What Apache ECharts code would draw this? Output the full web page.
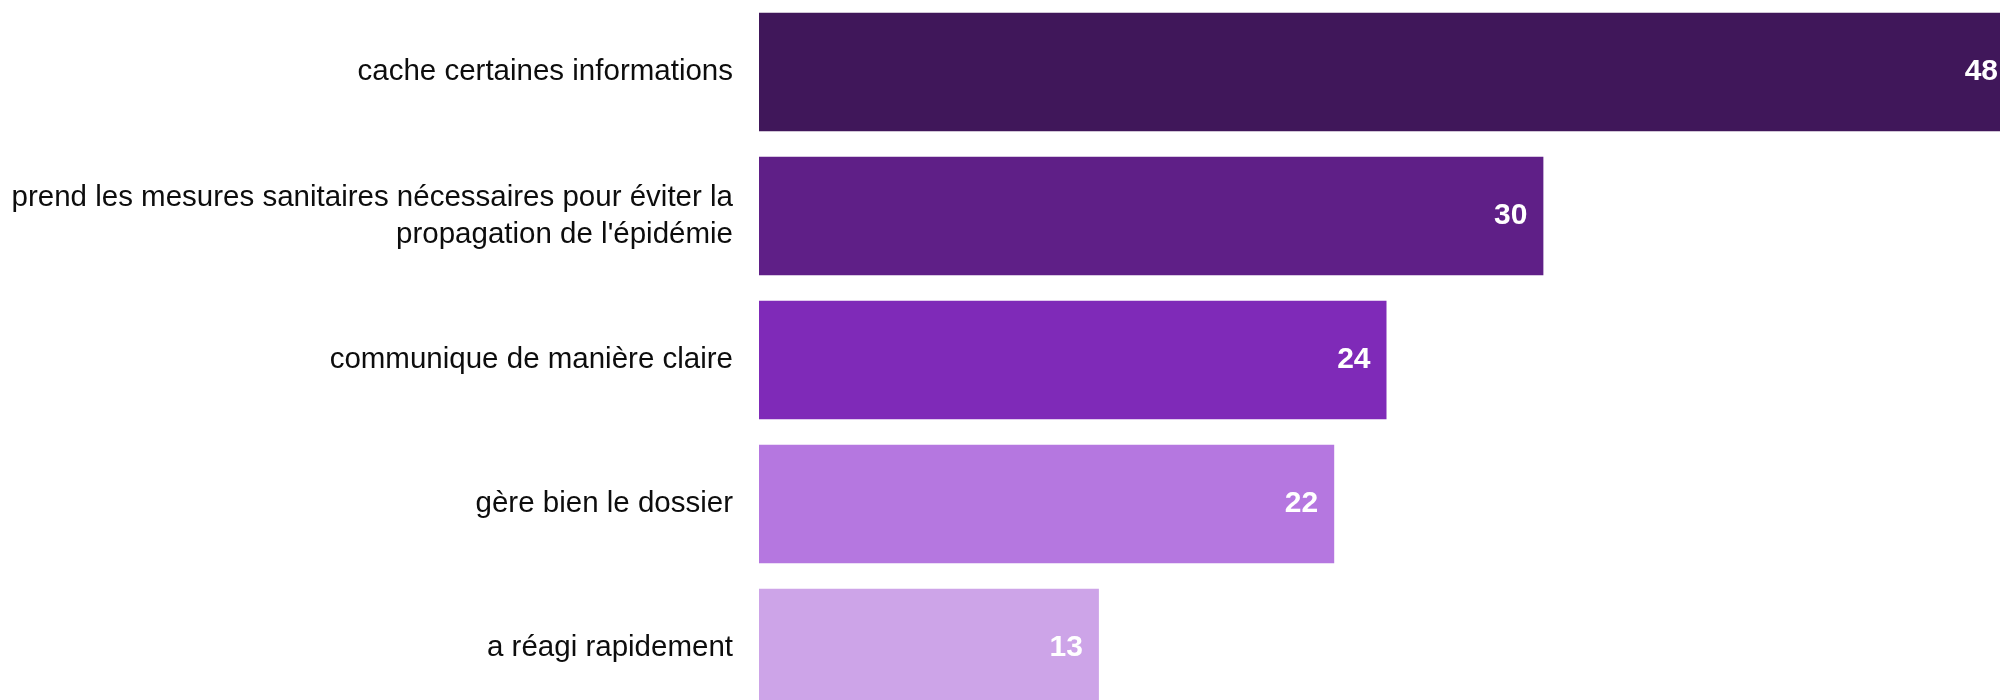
<!DOCTYPE html>
<html>
<head>
<meta charset="utf-8">
<script src="https://cdn.jsdelivr.net/npm/echarts@6/dist/echarts.min.js"></script>
<style>
html,body{margin:0;padding:0;background:#fff;}
#chart{width:2000px;height:700px;}
</style>
</head>
<body>
<div id="chart"></div>
<script>
const categories = [
  "cache certaines informations",
  "prend les mesures sanitaires nécessaires pour éviter la\npropagation de l'épidémie",
  "communique de manière claire",
  "gère bien le dossier",
  "a réagi rapidement"
];
const values = [48, 30, 24, 22, 13];
const barColors = ["#40175A", "#5F1F87", "#7F2AB8", "#B577E0", "#CDA4E8"];

const chart = echarts.init(document.getElementById('chart'));
chart.setOption({
  animation: false,
  backgroundColor: '#ffffff',
  grid: { left: 759, top: 0, width: 1255, height: 720, containLabel: false, outerBoundsMode: 'none' },
  xAxis: { type: 'value', min: 0, max: 48, show: false },
  yAxis: {
    type: 'category',
    data: categories,
    inverse: true,
    axisLine: { show: false },
    axisTick: { show: false },
    splitLine: { show: false },
    axisLabel: {
      margin: 26,
      color: '#0d0d0d',
      fontFamily: 'Liberation Sans, Arial, sans-serif',
      fontSize: 29.5,
      lineHeight: 37,
      align: 'right'
    }
  },
  series: [{
    type: 'bar',
    data: values.map((v, i) => ({ value: v, itemStyle: { color: barColors[i] } })),
    barCategoryGap: '17.6%',
    label: {
      show: true,
      position: 'insideRight',
      distance: 16,
      color: '#ffffff',
      fontWeight: 'bold',
      fontSize: 30,
      fontFamily: 'Liberation Sans, Arial, sans-serif'
    }
  }]
});
</script>
</body>
</html>
